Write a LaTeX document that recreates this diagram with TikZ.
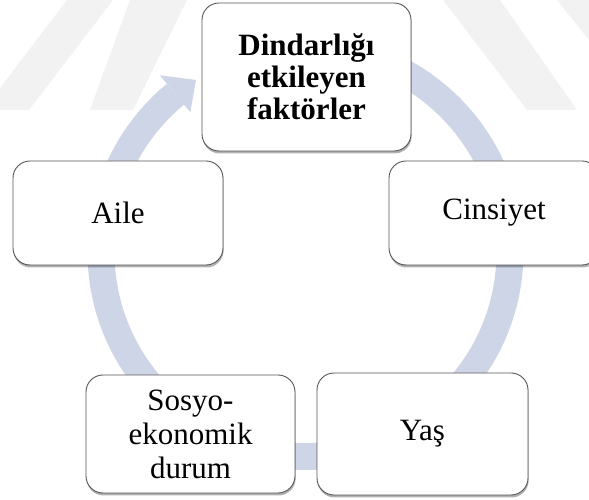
\documentclass[tikz,border=0pt]{standalone}
\usepackage{fontspec}
\setmainfont{Liberation Serif}
\usetikzlibrary{shadows}
\definecolor{ringc}{RGB}{205,213,231}
\definecolor{wm}{RGB}{242,242,242}
\definecolor{boxline}{RGB}{85,85,85}
\begin{document}
\begin{tikzpicture}[x=1pt,y=1pt,
  box/.style={draw=boxline, line width=0.9pt, fill=white, rounded corners=17pt,
    align=center, inner sep=0pt, font=\fontsize{31}{34}\selectfont,
    drop shadow={shadow xshift=0.6pt, shadow yshift=-2.5pt, opacity=0.3, fill=black}},
  wmark/.style={fill=wm},
  ring/.style={draw=ringc, line width=27pt},
  ringhead/.style={fill=ringc}]
\useasboundingbox (0,0) rectangle (589,500);
% faint watermark bands (pixel coordinates, y downward)
\begin{scope}[shift={(0,500)}, yscale=-1]
  \fill[wmark] (67,0) -- (113,0) -- (29,110) -- (0,110) -- (0,88) -- cycle;
  \fill[wmark] (130,0) -- (187,0) -- (133,110) -- (90,110) -- cycle;
  \fill[wmark] (443,0) -- (500,0) -- (577,110) -- (527,110) -- cycle;
  \fill[wmark] (557,0) -- (589,0) -- (589,40) -- cycle;
\end{scope}
% circular arrow
\coordinate (C) at (305.5,248);
\draw[ring] ([shift={(90:204.5)}]C) arc[start angle=90, end angle=-230.5, radius=204.5];
\fill[ringhead] ([shift={(129.5:229)}]C) -- ([shift={(122.5:204)}]C) -- ([shift={(129.5:181)}]C) -- cycle;
% boxes
\node[box, minimum width=209pt, minimum height=148pt,
      font=\bfseries\fontsize{31}{32}\selectfont] (top) at (306.5,423) {Dindarlığı\\etkileyen\\faktörler};
\node[box, minimum width=210pt, minimum height=104pt] (aile) at (118,287) {Aile};
\node[box, minimum width=210pt, minimum height=104pt] (cins) at (494,287) {Cinsiyet};
\node[box, minimum width=209pt, minimum height=118pt] (sosyo) at (190.5,66) {Sosyo-\\ekonomik\\durum};
\node[box, minimum width=211pt, minimum height=122pt] (yas) at (422.5,66) {Yaş};
\end{tikzpicture}
\end{document}
